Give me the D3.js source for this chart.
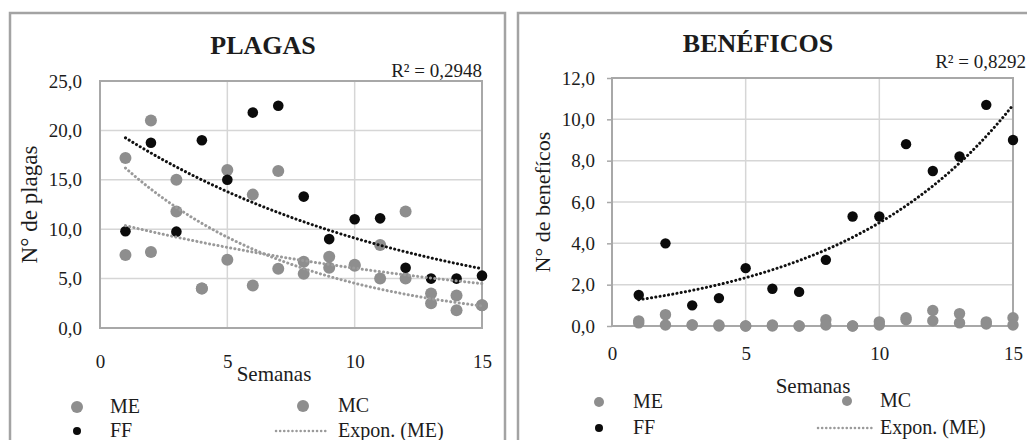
<!DOCTYPE html>
<html>
<head>
<meta charset="utf-8">
<script src="https://cdn.jsdelivr.net/npm/d3@7"></script>
<style>
  html, body { margin: 0; padding: 0; background: #fff; }
  svg { display: block; }
  svg text { font-family: "Liberation Serif", "Times New Roman", Times, serif; }
</style>
</head>
<body>
<svg id="chart" width="1027" height="440"></svg>
<script>
// ---------- DATA ----------
const weeks = [1, 2, 3, 4, 5, 6, 7, 8, 9, 10, 11, 12, 13, 14, 15];

// PLAGAS
const plagasME = [17.2, 21.0, 15.0, 4.0, 16.0, 4.3, 6.0, 5.5, 6.1, 6.3, 5.0, 5.0, 2.5, 1.8, 2.3];
const plagasMC = [7.4, 7.7, 11.8, 4.0, 6.9, 13.5, 15.9, 6.7, 7.2, 6.4, 8.4, 11.8, 3.5, 3.3, 2.3];
const plagasFF = [9.8, 18.75, 9.75, 19.0, 15.0, 21.8, 22.5, 13.3, 9.0, 11.0, 11.1, 6.1, 5.0, 5.0, 5.3];
const plagasYTicks = [0, 5, 10, 15, 20, 25];
const plagasR2 = "R² = 0,2948";

// BENÉFICOS
const beneME = [0.25, 0.55, 0.05, 0.05, 0.0, 0.0, 0.0, 0.3, 0.0, 0.2, 0.4, 0.75, 0.6, 0.2, 0.4];
const beneMC = [0.15, 0.05, 0.05, 0.0, 0.0, 0.05, 0.0, 0.05, 0.0, 0.05, 0.3, 0.25, 0.15, 0.1, 0.05];
const beneFF = [1.5, 4.0, 1.0, 1.35, 2.8, 1.8, 1.65, 3.2, 5.3, 5.3, 8.8, 7.5, 8.2, 10.7, 9.0];
const beneYTicks = [0, 2, 4, 6, 8, 10, 12];
const beneR2 = "R² = 0,8292";

const xTicks = [0, 5, 10, 15];
const seriesNames = ["ME", "MC", "FF"];
const trendLabel = "Expon. (ME)";

// ---------- HELPERS ----------
const FONT = "Liberation Serif, Times New Roman, serif";
const fmt = v => d3.format(".1f")(v).replace(".", ",");

function expFit(xs, ys) {
  if (ys.some(v => v <= 0)) return null;
  const n = xs.length;
  const ly = ys.map(Math.log);
  const mx = d3.mean(xs), my = d3.mean(ly);
  let sxy = 0, sxx = 0;
  for (let i = 0; i < n; i++) { sxy += (xs[i] - mx) * (ly[i] - my); sxx += (xs[i] - mx) ** 2; }
  const b = sxy / sxx;
  const a = Math.exp(my - b * mx);
  return x => a * Math.exp(b * x);
}

const svg = d3.select("#chart");
const GRAY = "#8e8e8e", BLACK = "#0b0b0b", TXT = "#1c1c1c";

// outer panel frames
svg.append("rect").attr("x", 10).attr("y", 13).attr("width", 495).attr("height", 460)
  .attr("fill", "none").attr("stroke", "#a3a3a3").attr("stroke-width", 2.5);
svg.append("rect").attr("x", 518).attr("y", 13).attr("width", 530).attr("height", 460)
  .attr("fill", "none").attr("stroke", "#a3a3a3").attr("stroke-width", 2.5);

function txt(g, x, y, s, size, anchor) {
  return g.append("text").attr("x", x).attr("y", y).attr("font-size", size)
    .attr("font-family", FONT).attr("fill", TXT).attr("text-anchor", anchor || "start").text(s);
}

function drawPanel(cfg) {
  const x = d3.scaleLinear().domain([0, 15]).range([cfg.left, cfg.right]);
  const y = d3.scaleLinear().domain([0, cfg.yMax]).range([cfg.bottom, cfg.top]);
  const g = svg.append("g");

  // gridlines
  g.append("g").selectAll("line").data(cfg.yTicks.filter(t => t > 0 && t < cfg.yMax)).join("line")
    .attr("x1", cfg.left).attr("x2", cfg.right).attr("y1", d => y(d)).attr("y2", d => y(d))
    .attr("stroke", "#d6d6d6").attr("stroke-width", 1.5);
  g.append("g").selectAll("line").data(xTicks.filter(t => t > 0 && t < 15)).join("line")
    .attr("y1", cfg.top).attr("y2", cfg.bottom).attr("x1", d => x(d)).attr("x2", d => x(d))
    .attr("stroke", "#d6d6d6").attr("stroke-width", 1.5);

  // plot border
  g.append("rect").attr("x", cfg.left).attr("y", cfg.top)
    .attr("width", cfg.right - cfg.left).attr("height", cfg.bottom - cfg.top)
    .attr("fill", "none").attr("stroke", "#a8a8a8").attr("stroke-width", 2);

  // axes
  const yAxis = d3.axisLeft(y).tickValues(cfg.yTicks).tickFormat(fmt)
    .tickSize(cfg.yTickLen).tickPadding(cfg.yPad);
  const ya = g.append("g").attr("transform", `translate(${cfg.left},0)`).call(yAxis)
    .attr("font-family", FONT);
  ya.select(".domain").remove();
  ya.selectAll("line").attr("stroke", "#a8a8a8").attr("stroke-width", 1.5);
  ya.selectAll("text").attr("font-size", 19).attr("fill", TXT).attr("font-family", FONT);

  const xAxis = d3.axisBottom(x).tickValues(xTicks).tickFormat(d3.format("d"))
    .tickSize(0).tickPadding(cfg.xPad);
  const xa = g.append("g").attr("transform", `translate(0,${cfg.bottom})`).call(xAxis)
    .attr("font-family", FONT);
  xa.select(".domain").remove();
  xa.selectAll("text").attr("font-size", 19).attr("fill", TXT).attr("font-family", FONT);

  // points
  const drawPts = (vals, color, r) => g.append("g").selectAll("circle").data(weeks).join("circle")
    .attr("cx", d => x(d)).attr("cy", (d, i) => y(vals[i])).attr("r", r).attr("fill", color);
  drawPts(cfg.me, GRAY, cfg.rGray);
  drawPts(cfg.mc, GRAY, cfg.rGray);
  drawPts(cfg.ff, BLACK, cfg.rBlack);

  // exponential trendlines (least squares on ln y, as Excel does)
  const xs = d3.range(weeks[0], weeks[weeks.length - 1] + 0.001, 0.1);
  const line = d3.line().x(d => x(d[0])).y(d => y(d[1]));
  [[cfg.me, "#9a9a9a"], [cfg.mc, "#9a9a9a"], [cfg.ff, "#111"]].forEach(([vals, col]) => {
    const f = expFit(weeks, vals);
    if (!f) return;
    g.append("path").datum(xs.map(v => [v, f(v)])).attr("d", line)
      .attr("fill", "none").attr("stroke", col).attr("stroke-width", 3)
      .attr("stroke-linecap", "round").attr("stroke-dasharray", "0.1,4.2");
  });

  // titles
  txt(g, cfg.titleX, cfg.titleY, cfg.title, 26, "middle").attr("font-weight", "bold");
  txt(g, cfg.r2X, cfg.r2Y, cfg.r2, 19, "end");
  txt(g, cfg.xTitleX, cfg.xTitleY, "Semanas", 21, "middle");
  g.append("text").attr("transform", `translate(${cfg.yTitleX},${(cfg.top + cfg.bottom) / 2}) rotate(-90)`)
    .attr("text-anchor", "middle").attr("dy", "0.35em").attr("font-family", FONT)
    .attr("font-size", cfg.yTitleSize).attr("fill", TXT).text(cfg.yTitle);

  // legend
  const L = cfg.legend;
  g.append("circle").attr("cx", L.mx1).attr("cy", L.y1).attr("r", L.rG).attr("fill", GRAY);
  txt(g, L.tx1, L.y1 + 6, seriesNames[0], 20);
  g.append("circle").attr("cx", L.mx1).attr("cy", L.y2).attr("r", 4).attr("fill", BLACK);
  txt(g, L.tx1, L.y2 + 6, seriesNames[2], 20);
  g.append("circle").attr("cx", L.mx2).attr("cy", L.y1 - 1).attr("r", L.rG).attr("fill", GRAY);
  txt(g, L.tx2, L.y1 + 5, seriesNames[1], 20);
  g.append("line").attr("x1", L.lx1).attr("x2", L.lx2).attr("y1", L.y2).attr("y2", L.y2)
    .attr("stroke", "#9a9a9a").attr("stroke-width", 2.5).attr("stroke-linecap", "round")
    .attr("stroke-dasharray", "0.1,4");
  txt(g, L.tx2, L.y2 + 6, trendLabel, 20);
}

drawPanel({
  left: 100, right: 482, top: 81, bottom: 328, yMax: 25, yTicks: plagasYTicks,
  me: plagasME, mc: plagasMC, ff: plagasFF, rGray: 6, rBlack: 5.3,
  yTickLen: 0, yPad: 18, xPad: 27,
  title: "PLAGAS", titleX: 263, titleY: 54, r2: plagasR2, r2X: 482, r2Y: 77,
  xTitleX: 274, xTitleY: 381, yTitle: "N° de plagas", yTitleX: 29, yTitleSize: 23,
  legend: { mx1: 77, tx1: 110, y1: 407, y2: 431, mx2: 303, tx2: 338, lx1: 276, lx2: 328, rG: 6 }
});

drawPanel({
  left: 612, right: 1013, top: 78, bottom: 326, yMax: 12, yTicks: beneYTicks,
  me: beneME, mc: beneMC, ff: beneFF, rGray: 5.7, rBlack: 5.2,
  yTickLen: 5, yPad: 12, xPad: 21,
  title: "BENÉFICOS", titleX: 758, titleY: 52, r2: beneR2, r2X: 1026, r2Y: 68,
  xTitleX: 813, xTitleY: 393, yTitle: "N° de benefícos", yTitleX: 542, yTitleSize: 22,
  legend: { mx1: 599, tx1: 633, y1: 402, y2: 428, mx2: 847, tx2: 880, lx1: 818, lx2: 872, rG: 5 }
});
</script>
</body>
</html>
